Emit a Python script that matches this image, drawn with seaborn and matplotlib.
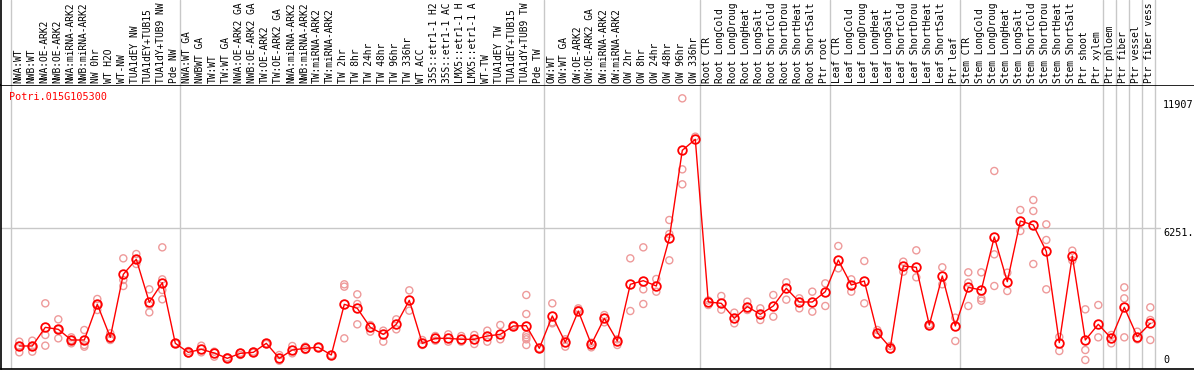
import matplotlib
matplotlib.use("Agg")
import matplotlib.pyplot as plt
import matplotlib.transforms as mtransforms
import seaborn as sns
import pandas as pd

# ---------------- data ----------------
gene_id = "Potri.015G105300"

group_sizes = [13, 28, 12, 10, 10, 11, 1, 1, 1, 1]

# sample labels, shown truncated to 14 characters as in the reference
labels = [
    "NWA:WT", "NWB:WT", "NWA:OE-ARK2", "NWB:OE-ARK2", "NWA:miRNA-ARK2", "NWB:miRNA-ARK2",
    "NW 0hr", "WT H2O", "WT-NW", "TUA1dEY NW", "TUA1dEY+TUB15", "TUA1dY+TUB9 NW", "Pde NW",
    "NWA:WT GA", "NWBWT GA", "TW:WT", "TW:WT GA", "NWA:OE-ARK2 GA", "NWB:OE-ARK2 GA",
    "TW:OE-ARK2", "TW:OE-ARK2 GA", "NWA:miRNA-ARK2", "NWB:miRNA-ARK2", "TW:miRNA-ARK2",
    "TW:miRNA-ARK2", "TW 2hr", "TW 8hr", "TW 24hr", "TW 48hr", "TW 96hr", "TW 336hr", "WT ACC",
    "35S::etr1-1 H2", "35S::etr1-1 AC", "LMX5::etr1-1 H", "LMX5::etr1-1 A", "WT-TW",
    "TUA1dEY TW", "TUA1dEY+TUB15", "TUA1dY+TUB9 TW", "Pde TW",
    "OW:WT", "OW:WT GA", "OW:OE-ARK2", "OW:OE-ARK2 GA", "OW:miRNA-ARK2", "OW:miRNA-ARK2",
    "OW 2hr", "OW 8hr", "OW 24hr", "OW 48hr", "OW 96hr", "OW 336hr",
    "Root CTR", "Root LongCold", "Root LongDroug", "Root LongHeat", "Root LongSalt",
    "Root ShortCold", "Root ShortDrou", "Root ShortHeat", "Root ShortSalt", "Ptr root",
    "Leaf CTR", "Leaf LongCold", "Leaf LongDroug", "Leaf LongHeat", "Leaf LongSalt",
    "Leaf ShortCold", "Leaf ShortDrou", "Leaf ShortHeat", "Leaf ShortSalt", "Ptr leaf",
    "Stem CTR", "Stem LongCold", "Stem LongDroug", "Stem LongHeat", "Stem LongSalt",
    "Stem ShortCold", "Stem ShortDrou", "Stem ShortHeat", "Stem ShortSalt", "Ptr shoot",
    "Ptr xylem", "Ptr phloem", "Ptr fiber", "Ptr vessel", "Ptr fiber vess",
]

means = [
    869, 869, 1722, 1631, 1143, 1143, 2774, 1265, 4146, 4832, 2866, 3765, 991,
    579, 716, 549, 305, 533, 579, 991, 305, 686, 762, 808, 457, 2774, 2591, 1722, 1402,
    1860, 2957, 991, 1219, 1219, 1174, 1174, 1326, 1402, 1783, 1798, 762,
    2241, 1037, 2469, 945, 2134, 1097, 3689, 3856, 3612, 5792, 9816, 10319,
    2881, 2820, 2134, 2667, 2317, 2698, 3506, 2881, 2881, 3353,
    4801, 3658, 3841, 1478, 792, 4527, 4466, 1828, 4070, 1783,
    3551, 3429, 5853, 3810, 6584, 6401, 5197, 1021, 4984, 1143, 1860,
    1219, 2637, 1295, 1905,
]

replicates = [
    [1067, 869, 579], [1113, 869, 610], [2820, 1372, 884], [2088, 1219, 1631],
    [1265, 1143, 991], [1600, 914, 838], [3018, 2515, 2774], [1448, 1174, 1143],
    [4877, 3887, 3612], [5075, 4618, 4832], [3460, 2408, 2743], [5380, 3917, 3429, 3003],
    [991],
    [640, 533], [884, 579], [381, 610], [305, 350], [457, 560], [560, 610], [991, 960],
    [457, 198], [869, 533], [840, 686], [808], [457], [3689, 3582, 1219],
    [3231, 2789, 1860], [1828, 1524], [1570, 1067], [2088, 1631], [3414, 2484],
    [1143, 914], [1326, 1113], [1402, 1067], [1326, 1067], [1372, 960], [1570, 1067],
    [1828, 1174], [1828, 1783], [3201, 2332, 1372, 1265, 914, 1174], [762],
    [2820, 1951, 1905], [1174, 838], [2591, 2515], [1021, 808], [2286, 1951],
    [1174, 914], [4877, 2469], [5380, 3460, 2789], [3932, 3353], [6630, 5990, 4786],
    [12193, 8947, 8261], [10440],
    [2743, 2950], [3155, 2530], [2393, 1905], [2896, 2515], [2591, 2058], [3201, 2210],
    [3780, 2988], [3048, 2591], [3353, 2439], [3734, 2698],
    [5441, 4420], [3917, 3353], [4755, 2820], [1600, 1372], [869, 716], [4725, 4268],
    [5243, 4009], [1860, 1783], [4466, 3689], [2164, 1097],
    [4237, 3765, 2698], [4237, 3048, 2941], [8871, 5060, 3612], [4222, 3384],
    [7087, 6127], [7545, 7042, 4618], [6432, 5716, 3460], [1280, 640], [5228, 4780],
    [2545, 686, 229], [2743, 1265],
    [1372, 991], [3551, 3048, 1265], [1524, 1174], [2637, 2058, 1143],
]

tick_values = [0, 6251, 11907]
tick_labels = ["0", "6251.", "11907"]

# ---------------- layout ----------------
W, H = 1194, 370
sns.set_style("white")
plt.rcParams["font.family"] = ["DejaVu Sans Mono", "DejaVu Sans"]

fig = plt.figure(figsize=(W / 100, H / 100), dpi=100)
ax = fig.add_axes([1 / W, 1 / H, (W - 1) / W, 284 / H])
lax = fig.add_axes([1 / W, 285 / H, (W - 1) / W, 85 / H])

xlim = ((1 - 19.3) / 13.0, (W - 19.3) / 13.0)
ylim = (-183, 12803)
for a in (ax, lax):
    a.set_xlim(*xlim)
    a.set_facecolor("white")
    a.set_xticks([])
    a.set_yticks([])
ax.set_ylim(*ylim)
lax.set_ylim(0, 1)

grid_c = "#C8C8C8"
# group separators
pos = -0.66
seps = [pos]
for g in group_sizes:
    pos += g
    seps.append(pos)
for s in seps:
    ax.axvline(s, color=grid_c, lw=1.0, zorder=0)
    lax.axvline(s, color=grid_c, lw=1.0, zorder=0)

ax.axhline(6251, xmin=0, xmax=(1160 - 1) / (W - 1), color=grid_c, lw=1.0, zorder=0)

# data frames
mean_df = pd.DataFrame({"x": list(range(len(means))), "v": means})
rx, rv = [], []
for i, reps in enumerate(replicates):
    for r in reps:
        rx.append(i)
        rv.append(r)
rep_df = pd.DataFrame({"x": rx, "v": rv})

sns.scatterplot(data=rep_df, x="x", y="v", ax=ax, marker="o", s=26,
                facecolor="none", edgecolor="#EE9A9A", linewidth=1.0, zorder=2,
                legend=False)
sns.lineplot(data=mean_df, x="x", y="v", ax=ax, estimator=None, sort=False,
             color="#FF0000", lw=1.0, marker="o", markersize=6.2,
             markerfacecolor="none", markeredgecolor="#FF0000", markeredgewidth=1.3,
             zorder=3, legend=False)
ax.set_xlabel("")
ax.set_ylabel("")

# spines
for a in (ax, lax):
    for sp in a.spines.values():
        sp.set_visible(False)
ax.spines["left"].set_visible(True)
ax.spines["bottom"].set_visible(True)
ax.spines["top"].set_visible(True)
lax.spines["left"].set_visible(True)
for sp in (ax.spines["left"], ax.spines["bottom"], ax.spines["top"], lax.spines["left"]):
    sp.set_color("black")
    sp.set_linewidth(1.2)

# column labels
lab_tr = mtransforms.blended_transform_factory(lax.transData, lax.transAxes)
for i, lab in enumerate(labels):
    lax.text(i - 0.08, 2 / 85, lab, rotation=90, ha="center", va="bottom",
             fontsize=6.9, color="black", transform=lab_tr)

# title
ax.text(8.5 / (W - 1), 1 - 11.5 / 284, gene_id, transform=ax.transAxes,
        ha="left", va="center", fontsize=7.3, color="#FF0000")

# right value labels
tr = mtransforms.blended_transform_factory(ax.transAxes, ax.transData)
vas = ["bottom", "top", "center"]
for v, lab, va in zip(tick_values, tick_labels, vas):
    ax.text((1163 - 1) / (W - 1), v, lab, transform=tr, ha="left", va=va,
            fontsize=7.3, color="black")

fig.savefig("out.png", dpi=100, facecolor="white")
